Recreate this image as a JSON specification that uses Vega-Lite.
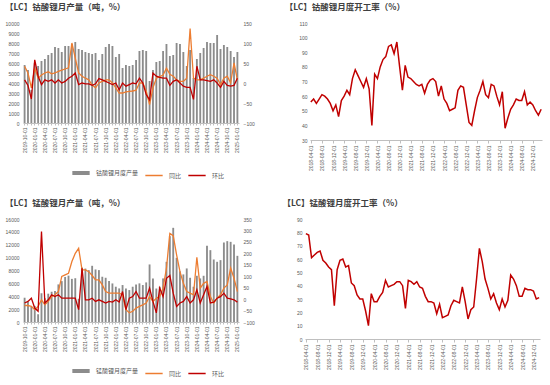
{
"$schema":"https://vega.github.io/schema/vega-lite/v6.json",
"background":"white",
"padding":{"left":5,"top":2,"right":4,"bottom":2},
"config":{"view":{"stroke":null},"font":"Noto Sans CJK SC",
"axis":{"labelFont":"Liberation Sans","labelColor":"#595959","labelFontSize":5,"grid":false,"domainColor":"#bfbfbf","tickColor":"#bfbfbf","title":null},
"title":{"anchor":"start","frame":"bounds","fontSize":8.5,"fontWeight":"bold","color":"#404040","font":"Noto Sans CJK SC","offset":10}},
"resolve":{"scale":{"color":"independent"},"legend":{"color":"independent"}},
"spacing":17,
"datasets":{
"lco":[
{"d":"2019-10-01","output":5800,"yoy":42,"mom":8},{"d":"2019-11-01","output":5300,"yoy":25,"mom":-6},{"d":"2019-12-01","output":3300,"yoy":-12,"mom":-40},
{"d":"2020-01-01","output":6000,"yoy":37,"mom":58},{"d":"2020-02-01","output":5700,"yoy":12,"mom":17},{"d":"2020-03-01","output":6200,"yoy":20,"mom":-4},{"d":"2020-04-01","output":6400,"yoy":25,"mom":8},{"d":"2020-05-01","output":6800,"yoy":28,"mom":4},{"d":"2020-06-01","output":7000,"yoy":23,"mom":8},{"d":"2020-07-01","output":7600,"yoy":25,"mom":0},{"d":"2020-08-01","output":7500,"yoy":29,"mom":8},{"d":"2020-09-01","output":7100,"yoy":32,"mom":0},{"d":"2020-10-01","output":7700,"yoy":35,"mom":4},{"d":"2020-11-01","output":7700,"yoy":38,"mom":12},{"d":"2020-12-01","output":7900,"yoy":100,"mom":17},
{"d":"2021-01-01","output":8100,"yoy":62,"mom":25},{"d":"2021-02-01","output":7400,"yoy":25,"mom":-4},{"d":"2021-03-01","output":7300,"yoy":17,"mom":0},{"d":"2021-04-01","output":7100,"yoy":12,"mom":-2},{"d":"2021-05-01","output":7000,"yoy":8,"mom":-2},{"d":"2021-06-01","output":6900,"yoy":-5,"mom":-6},{"d":"2021-07-01","output":7000,"yoy":-12,"mom":-2},{"d":"2021-08-01","output":6300,"yoy":0,"mom":11},{"d":"2021-09-01","output":6900,"yoy":4,"mom":8},{"d":"2021-10-01","output":7600,"yoy":8,"mom":4},{"d":"2021-11-01","output":7900,"yoy":8,"mom":0},{"d":"2021-12-01","output":7700,"yoy":0,"mom":-4},
{"d":"2022-01-01","output":6600,"yoy":-12,"mom":0},{"d":"2022-02-01","output":6900,"yoy":-25,"mom":-17},{"d":"2022-03-01","output":5500,"yoy":-25,"mom":0},{"d":"2022-04-01","output":5800,"yoy":-22,"mom":-8},{"d":"2022-05-01","output":5700,"yoy":-21,"mom":-4},{"d":"2022-06-01","output":5800,"yoy":-20,"mom":0},{"d":"2022-07-01","output":6300,"yoy":-18,"mom":-2},{"d":"2022-08-01","output":7200,"yoy":0,"mom":12},{"d":"2022-09-01","output":7300,"yoy":0,"mom":0},{"d":"2022-10-01","output":7200,"yoy":-20,"mom":-29},{"d":"2022-11-01","output":4200,"yoy":-54,"mom":-42},{"d":"2022-12-01","output":5300,"yoy":-12,"mom":25},
{"d":"2023-01-01","output":6100,"yoy":12,"mom":17},{"d":"2023-02-01","output":6200,"yoy":16,"mom":14},{"d":"2023-03-01","output":7200,"yoy":20,"mom":12},{"d":"2023-04-01","output":7900,"yoy":37,"mom":12},{"d":"2023-05-01","output":6700,"yoy":22,"mom":-6},{"d":"2023-06-01","output":6800,"yoy":17,"mom":4},{"d":"2023-07-01","output":8000,"yoy":8,"mom":8},{"d":"2023-08-01","output":7900,"yoy":4,"mom":0},{"d":"2023-09-01","output":7100,"yoy":4,"mom":-8},{"d":"2023-10-01","output":5700,"yoy":12,"mom":-11},{"d":"2023-11-01","output":7300,"yoy":136,"mom":-11},{"d":"2023-12-01","output":4500,"yoy":12,"mom":-41},
{"d":"2024-01-01","output":6400,"yoy":8,"mom":42},{"d":"2024-02-01","output":7000,"yoy":8,"mom":8},{"d":"2024-03-01","output":7500,"yoy":12,"mom":8},{"d":"2024-04-01","output":8100,"yoy":17,"mom":6},{"d":"2024-05-01","output":8000,"yoy":21,"mom":4},{"d":"2024-06-01","output":8000,"yoy":17,"mom":8},{"d":"2024-07-01","output":8800,"yoy":12,"mom":0},{"d":"2024-08-01","output":7400,"yoy":-4,"mom":-11},{"d":"2024-09-01","output":7800,"yoy":12,"mom":4},{"d":"2024-10-01","output":7600,"yoy":17,"mom":-6},{"d":"2024-11-01","output":7200,"yoy":0,"mom":-8},{"d":"2024-12-01","output":6600,"yoy":50,"mom":-6},
{"d":"2025-01-01","output":7100,"yoy":8,"mom":12}],
"lmo":[
{"d":"2019-10-01","output":3770,"yoy":-28,"mom":-17},{"d":"2019-11-01","output":3150,"yoy":-28,"mom":-10},{"d":"2019-12-01","output":2380,"yoy":-32,"mom":4},
{"d":"2020-01-01","output":2500,"yoy":-46,"mom":-39},{"d":"2020-02-01","output":1200,"yoy":-32,"mom":-53},{"d":"2020-03-01","output":4450,"yoy":-3,"mom":295},{"d":"2020-04-01","output":3700,"yoy":-25,"mom":-17},{"d":"2020-05-01","output":4400,"yoy":-10,"mom":-3},{"d":"2020-06-01","output":4700,"yoy":11,"mom":19},{"d":"2020-07-01","output":4800,"yoy":19,"mom":11},{"d":"2020-08-01","output":5840,"yoy":33,"mom":19},{"d":"2020-09-01","output":6350,"yoy":99,"mom":4},{"d":"2020-10-01","output":7000,"yoy":106,"mom":4},{"d":"2020-11-01","output":7200,"yoy":113,"mom":4},{"d":"2020-12-01","output":6700,"yoy":164,"mom":4},
{"d":"2021-01-01","output":6800,"yoy":200,"mom":4},{"d":"2021-02-01","output":3600,"yoy":222,"mom":-46},{"d":"2021-03-01","output":8470,"yoy":128,"mom":135},{"d":"2021-04-01","output":8300,"yoy":128,"mom":-3},{"d":"2021-05-01","output":8060,"yoy":120,"mom":-3},{"d":"2021-06-01","output":8730,"yoy":103,"mom":4},{"d":"2021-07-01","output":8160,"yoy":84,"mom":-10},{"d":"2021-08-01","output":8060,"yoy":84,"mom":-3},{"d":"2021-09-01","output":7030,"yoy":62,"mom":-10},{"d":"2021-10-01","output":6870,"yoy":33,"mom":-17},{"d":"2021-11-01","output":6350,"yoy":26,"mom":-10},{"d":"2021-12-01","output":5990,"yoy":26,"mom":-13},
{"d":"2022-01-01","output":5480,"yoy":26,"mom":-3},{"d":"2022-02-01","output":5220,"yoy":26,"mom":-13},{"d":"2022-03-01","output":5740,"yoy":19,"mom":33},{"d":"2022-04-01","output":5220,"yoy":-46,"mom":-46},{"d":"2022-05-01","output":4960,"yoy":-60,"mom":4},{"d":"2022-06-01","output":5480,"yoy":-53,"mom":11},{"d":"2022-07-01","output":5840,"yoy":-39,"mom":33},{"d":"2022-08-01","output":6000,"yoy":-32,"mom":4},{"d":"2022-09-01","output":5740,"yoy":-25,"mom":4},{"d":"2022-10-01","output":6150,"yoy":-17,"mom":4},{"d":"2022-11-01","output":8940,"yoy":11,"mom":48},{"d":"2022-12-01","output":6770,"yoy":-10,"mom":-10},
{"d":"2023-01-01","output":5200,"yoy":4,"mom":-60},{"d":"2023-02-01","output":5480,"yoy":11,"mom":48},{"d":"2023-03-01","output":6770,"yoy":48,"mom":11},{"d":"2023-04-01","output":9350,"yoy":135,"mom":91},{"d":"2023-05-01","output":13330,"yoy":287,"mom":103},{"d":"2023-06-01","output":14630,"yoy":277,"mom":26},{"d":"2023-07-01","output":9970,"yoy":193,"mom":-32},{"d":"2023-08-01","output":7900,"yoy":120,"mom":-17},{"d":"2023-09-01","output":7390,"yoy":69,"mom":-10},{"d":"2023-10-01","output":8320,"yoy":33,"mom":11},{"d":"2023-11-01","output":6870,"yoy":26,"mom":-17},{"d":"2023-12-01","output":5480,"yoy":19,"mom":-3},
{"d":"2024-01-01","output":7180,"yoy":183,"mom":41},{"d":"2024-02-01","output":6770,"yoy":48,"mom":-17},{"d":"2024-03-01","output":7180,"yoy":69,"mom":19},{"d":"2024-04-01","output":11830,"yoy":77,"mom":55},{"d":"2024-05-01","output":11160,"yoy":11,"mom":-17},{"d":"2024-06-01","output":9710,"yoy":-17,"mom":-13},{"d":"2024-07-01","output":9350,"yoy":4,"mom":4},{"d":"2024-08-01","output":9610,"yoy":19,"mom":11},{"d":"2024-09-01","output":12350,"yoy":48,"mom":26},{"d":"2024-10-01","output":12560,"yoy":62,"mom":4},{"d":"2024-11-01","output":12450,"yoy":136,"mom":1},{"d":"2024-12-01","output":12040,"yoy":91,"mom":-3},
{"d":"2025-01-01","output":10280,"yoy":33,"mom":-13}],
"lcoR":[
{"d":"2018-04-01","r":56},{"d":"2018-05-01","r":58},{"d":"2018-06-01","r":55},{"d":"2018-07-01","r":58},{"d":"2018-08-01","r":61},{"d":"2018-09-01","r":60},{"d":"2018-10-01","r":58},{"d":"2018-11-01","r":55},{"d":"2018-12-01","r":50},
{"d":"2019-01-01","r":54},{"d":"2019-02-01","r":46},{"d":"2019-03-01","r":57},{"d":"2019-04-01","r":60},{"d":"2019-05-01","r":64},{"d":"2019-06-01","r":61},{"d":"2019-07-01","r":72},{"d":"2019-08-01","r":78},{"d":"2019-09-01","r":74},{"d":"2019-10-01","r":70},{"d":"2019-11-01","r":66},{"d":"2019-12-01","r":72},
{"d":"2020-01-01","r":65},{"d":"2020-02-01","r":40},{"d":"2020-03-01","r":75},{"d":"2020-04-01","r":72},{"d":"2020-05-01","r":80},{"d":"2020-06-01","r":85},{"d":"2020-07-01","r":87},{"d":"2020-08-01","r":94},{"d":"2020-09-01","r":95},{"d":"2020-10-01","r":89},{"d":"2020-11-01","r":97},{"d":"2020-12-01","r":80},
{"d":"2021-01-01","r":64},{"d":"2021-02-01","r":81},{"d":"2021-03-01","r":73},{"d":"2021-04-01","r":72},{"d":"2021-05-01","r":70},{"d":"2021-06-01","r":68},{"d":"2021-07-01","r":67},{"d":"2021-08-01","r":68},{"d":"2021-09-01","r":62},{"d":"2021-10-01","r":68},{"d":"2021-11-01","r":71},{"d":"2021-12-01","r":72},
{"d":"2022-01-01","r":70},{"d":"2022-02-01","r":60},{"d":"2022-03-01","r":67},{"d":"2022-04-01","r":58},{"d":"2022-05-01","r":55},{"d":"2022-06-01","r":50},{"d":"2022-07-01","r":51},{"d":"2022-08-01","r":52},{"d":"2022-09-01","r":64},{"d":"2022-10-01","r":67},{"d":"2022-11-01","r":66},{"d":"2022-12-01","r":54},
{"d":"2023-01-01","r":42},{"d":"2023-02-01","r":40},{"d":"2023-03-01","r":50},{"d":"2023-04-01","r":59},{"d":"2023-05-01","r":64},{"d":"2023-06-01","r":70},{"d":"2023-07-01","r":61},{"d":"2023-08-01","r":59},{"d":"2023-09-01","r":68},{"d":"2023-10-01","r":67},{"d":"2023-11-01","r":60},{"d":"2023-12-01","r":54},
{"d":"2024-01-01","r":63},{"d":"2024-02-01","r":38},{"d":"2024-03-01","r":45},{"d":"2024-04-01","r":51},{"d":"2024-05-01","r":54},{"d":"2024-06-01","r":58},{"d":"2024-07-01","r":57},{"d":"2024-08-01","r":57},{"d":"2024-09-01","r":63},{"d":"2024-10-01","r":54},{"d":"2024-11-01","r":56},{"d":"2024-12-01","r":54},
{"d":"2025-01-01","r":50},{"d":"2025-02-01","r":47},{"d":"2025-03-01","r":51}],
"lmoR":[
{"d":"2018-04-01","r":79},{"d":"2018-05-01","r":78},{"d":"2018-06-01","r":61},{"d":"2018-07-01","r":63},{"d":"2018-08-01","r":65},{"d":"2018-09-01","r":66},{"d":"2018-10-01","r":59},{"d":"2018-11-01","r":57},{"d":"2018-12-01","r":54},
{"d":"2019-01-01","r":52},{"d":"2019-02-01","r":25},{"d":"2019-03-01","r":52},{"d":"2019-04-01","r":59},{"d":"2019-05-01","r":60},{"d":"2019-06-01","r":54},{"d":"2019-07-01","r":55},{"d":"2019-08-01","r":42},{"d":"2019-09-01","r":40},{"d":"2019-10-01","r":33},{"d":"2019-11-01","r":30},{"d":"2019-12-01","r":30},
{"d":"2020-01-01","r":21},{"d":"2020-02-01","r":10},{"d":"2020-03-01","r":34},{"d":"2020-04-01","r":28},{"d":"2020-05-01","r":28},{"d":"2020-06-01","r":32},{"d":"2020-07-01","r":35},{"d":"2020-08-01","r":44},{"d":"2020-09-01","r":39},{"d":"2020-10-01","r":40},{"d":"2020-11-01","r":41},{"d":"2020-12-01","r":43},
{"d":"2021-01-01","r":43},{"d":"2021-02-01","r":40},{"d":"2021-03-01","r":23},{"d":"2021-04-01","r":44},{"d":"2021-05-01","r":43},{"d":"2021-06-01","r":41},{"d":"2021-07-01","r":43},{"d":"2021-08-01","r":39},{"d":"2021-09-01","r":38},{"d":"2021-10-01","r":32},{"d":"2021-11-01","r":28},{"d":"2021-12-01","r":28},
{"d":"2022-01-01","r":27},{"d":"2022-02-01","r":19},{"d":"2022-03-01","r":26},{"d":"2022-04-01","r":16},{"d":"2022-05-01","r":17},{"d":"2022-06-01","r":18},{"d":"2022-07-01","r":25},{"d":"2022-08-01","r":29},{"d":"2022-09-01","r":28},{"d":"2022-10-01","r":27},{"d":"2022-11-01","r":39},{"d":"2022-12-01","r":28},
{"d":"2023-01-01","r":15},{"d":"2023-02-01","r":22},{"d":"2023-03-01","r":24},{"d":"2023-04-01","r":45},{"d":"2023-05-01","r":68},{"d":"2023-06-01","r":58},{"d":"2023-07-01","r":45},{"d":"2023-08-01","r":38},{"d":"2023-09-01","r":30},{"d":"2023-10-01","r":34},{"d":"2023-11-01","r":27},{"d":"2023-12-01","r":22},
{"d":"2024-01-01","r":30},{"d":"2024-02-01","r":24},{"d":"2024-03-01","r":29},{"d":"2024-04-01","r":48},{"d":"2024-05-01","r":45},{"d":"2024-06-01","r":40},{"d":"2024-07-01","r":32},{"d":"2024-08-01","r":32},{"d":"2024-09-01","r":38},{"d":"2024-10-01","r":37},{"d":"2024-11-01","r":37},{"d":"2024-12-01","r":36},
{"d":"2025-01-01","r":30},{"d":"2025-02-01","r":31}]
},
"vconcat":[
{"hconcat":[
{"title":{"text":"【LC】钴酸锂月产量（吨，%）"},
 "width":216,"height":100,
 "data":{"name":"lco"},
 "resolve":{"scale":{"y":"independent"}},
 "encoding":{"x":{"field":"d","type":"ordinal","scale":{"type":"band","paddingInner":0.45,"paddingOuter":0.2},
   "axis":{"labelAngle":-90,"labelFontSize":5,"labelOverlap":false,"ticks":true,"tickSize":2,"labelPadding":2,
   "labelExpr":"indexof(['01','04','07','10'], substring(datum.value,5,7)) >= 0 ? datum.value : ''"}}},
 "layer":[
  {"mark":{"type":"bar","color":"#8c8c8c"},
   "encoding":{"y":{"field":"output","type":"quantitative","scale":{"domain":[0,10000]},"axis":{"values":[0,1000,2000,3000,4000,5000,6000,7000,8000,9000,10000],"format":"d","domain":false,"ticks":false,"labelPadding":4,"minExtent":18}},
    "color":{"datum":"lco","type":"nominal","scale":{"domain":["lco","yoy","mom"],"range":["#8c8c8c","#ED7D31","#C00000"]},
     "legend":{"orient":"none","legendX":55,"legendY":147,"title":null,"direction":"horizontal","symbolType":"stroke","symbolSize":300,"labelFontSize":6,"labelColor":"#595959","labelFont":"Noto Sans CJK SC","columnPadding":3,"labelOffset":12,
      "labelExpr":"datum.label=='lco'?'钴酸锂月度产量':datum.label=='yoy'?'同比':'环比'",
      "encode":{"symbols":{"update":{"stroke":{"signal":"datum.value=='lco'?'#8c8c8c':datum.value=='yoy'?'#ED7D31':'#C00000'"},"strokeWidth":{"signal":"datum.value=='lco'?4:1.5"},"fill":{"value":"transparent"}}}}}}}},
  {"transform":[{"fold":["yoy","mom"],"as":["k","v"]}],
   "mark":{"type":"line","strokeWidth":1.3},
   "encoding":{"y":{"field":"v","type":"quantitative","scale":{"domain":[-100,150]},"axis":{"orient":"right","values":[-100,-50,0,50,100,150],"domain":false,"ticks":false,"labelPadding":4}},
    "color":{"field":"k","type":"nominal","scale":{"domain":["lco","yoy","mom"],"range":["#8c8c8c","#ED7D31","#C00000"]},
     "legend":{"orient":"none","legendX":55,"legendY":147,"title":null,"direction":"horizontal","symbolType":"stroke","symbolSize":300,"labelFontSize":6,"labelColor":"#595959","labelFont":"Noto Sans CJK SC","columnPadding":3,"labelOffset":12,
      "labelExpr":"datum.label=='lco'?'钴酸锂月度产量':datum.label=='yoy'?'同比':'环比'",
      "encode":{"symbols":{"update":{"stroke":{"signal":"datum.value=='lco'?'#8c8c8c':datum.value=='yoy'?'#ED7D31':'#C00000'"},"strokeWidth":{"signal":"datum.value=='lco'?4:1.5"},"fill":{"value":"transparent"}}}}}}}}
 ]},
{"title":{"text":"【LC】钴酸锂月度开工率（%）","dx":-14},
 "width":232,"height":117,
 "data":{"name":"lcoR"},
 "mark":{"type":"line","color":"#C00000","strokeWidth":1.5},
 "encoding":{"x":{"field":"d","type":"ordinal","scale":{"type":"point","padding":0.3},
   "axis":{"labelAngle":-90,"labelOverlap":false,"ticks":true,"tickSize":3,"labelPadding":2,
    "values":["2018-04-01","2018-08-01","2018-12-01","2019-04-01","2019-08-01","2019-12-01","2020-04-01","2020-08-01","2020-12-01","2021-04-01","2021-08-01","2021-12-01","2022-04-01","2022-08-01","2022-12-01","2023-04-01","2023-08-01","2023-12-01","2024-04-01","2024-08-01","2024-12-01"]}},
  "y":{"field":"r","type":"quantitative","scale":{"domain":[30,110]},"axis":{"values":[30,40,50,60,70,80,90,100,110],"domain":false,"ticks":false,"labelPadding":3}}}}
],"spacing":29},
{"hconcat":[
{"title":{"text":"【LC】锰酸锂月产量（吨，%）"},
 "width":216,"height":103,
 "data":{"name":"lmo"},
 "resolve":{"scale":{"y":"independent"}},
 "encoding":{"x":{"field":"d","type":"ordinal","scale":{"type":"band","paddingInner":0.45,"paddingOuter":0.2},
   "axis":{"labelAngle":-90,"labelFontSize":5,"labelOverlap":false,"ticks":true,"tickSize":2,"labelPadding":2,
   "labelExpr":"indexof(['01','04','07','10'], substring(datum.value,5,7)) >= 0 ? datum.value : ''"}}},
 "layer":[
  {"mark":{"type":"bar","color":"#8c8c8c"},
   "encoding":{"y":{"field":"output","type":"quantitative","scale":{"domain":[0,16000]},"axis":{"values":[0,2000,4000,6000,8000,10000,12000,14000,16000],"format":"d","domain":false,"ticks":false,"labelPadding":4,"minExtent":18}},
    "color":{"datum":"lmo","type":"nominal","scale":{"domain":["lmo","yoy","mom"],"range":["#8c8c8c","#ED7D31","#C00000"]},
     "legend":{"orient":"none","legendX":55,"legendY":149,"title":null,"direction":"horizontal","symbolType":"stroke","symbolSize":300,"labelFontSize":6,"labelColor":"#595959","labelFont":"Noto Sans CJK SC","columnPadding":3,"labelOffset":12,
      "labelExpr":"datum.label=='lmo'?'锰酸锂月度产量':datum.label=='yoy'?'同比':'环比'",
      "encode":{"symbols":{"update":{"stroke":{"signal":"datum.value=='lmo'?'#8c8c8c':datum.value=='yoy'?'#ED7D31':'#C00000'"},"strokeWidth":{"signal":"datum.value=='lmo'?4:1.5"},"fill":{"value":"transparent"}}}}}}}},
  {"transform":[{"fold":["yoy","mom"],"as":["k","v"]}],
   "mark":{"type":"line","strokeWidth":1.3},
   "encoding":{"y":{"field":"v","type":"quantitative","scale":{"domain":[-100,350]},"axis":{"orient":"right","values":[-100,-50,0,50,100,150,200,250,300,350],"domain":false,"ticks":false,"labelPadding":4}},
    "color":{"field":"k","type":"nominal","scale":{"domain":["lmo","yoy","mom"],"range":["#8c8c8c","#ED7D31","#C00000"]},
     "legend":{"orient":"none","legendX":55,"legendY":149,"title":null,"direction":"horizontal","symbolType":"stroke","symbolSize":300,"labelFontSize":6,"labelColor":"#595959","labelFont":"Noto Sans CJK SC","columnPadding":3,"labelOffset":12,
      "labelExpr":"datum.label=='lmo'?'锰酸锂月度产量':datum.label=='yoy'?'同比':'环比'",
      "encode":{"symbols":{"update":{"stroke":{"signal":"datum.value=='lmo'?'#8c8c8c':datum.value=='yoy'?'#ED7D31':'#C00000'"},"strokeWidth":{"signal":"datum.value=='lmo'?4:1.5"},"fill":{"value":"transparent"}}}}}}}}
 ]},
{"title":{"text":"【LC】锰酸锂月度开工率（%）","dx":-14},
 "width":235,"height":120,
 "data":{"name":"lmoR"},
 "mark":{"type":"line","color":"#C00000","strokeWidth":1.5},
 "encoding":{"x":{"field":"d","type":"ordinal","scale":{"type":"point","padding":0.3},
   "axis":{"labelAngle":-90,"labelOverlap":false,"ticks":true,"tickSize":3,"labelPadding":2,
    "values":["2018-04-01","2018-08-01","2018-12-01","2019-04-01","2019-08-01","2019-12-01","2020-04-01","2020-08-01","2020-12-01","2021-04-01","2021-08-01","2021-12-01","2022-04-01","2022-08-01","2022-12-01","2023-04-01","2023-08-01","2023-12-01","2024-04-01","2024-08-01","2024-12-01"]}},
  "y":{"field":"r","type":"quantitative","scale":{"domain":[0,90]},"axis":{"values":[0,10,20,30,40,50,60,70,80,90],"domain":false,"ticks":false,"labelPadding":3}}}}
],"spacing":27}
]
}
